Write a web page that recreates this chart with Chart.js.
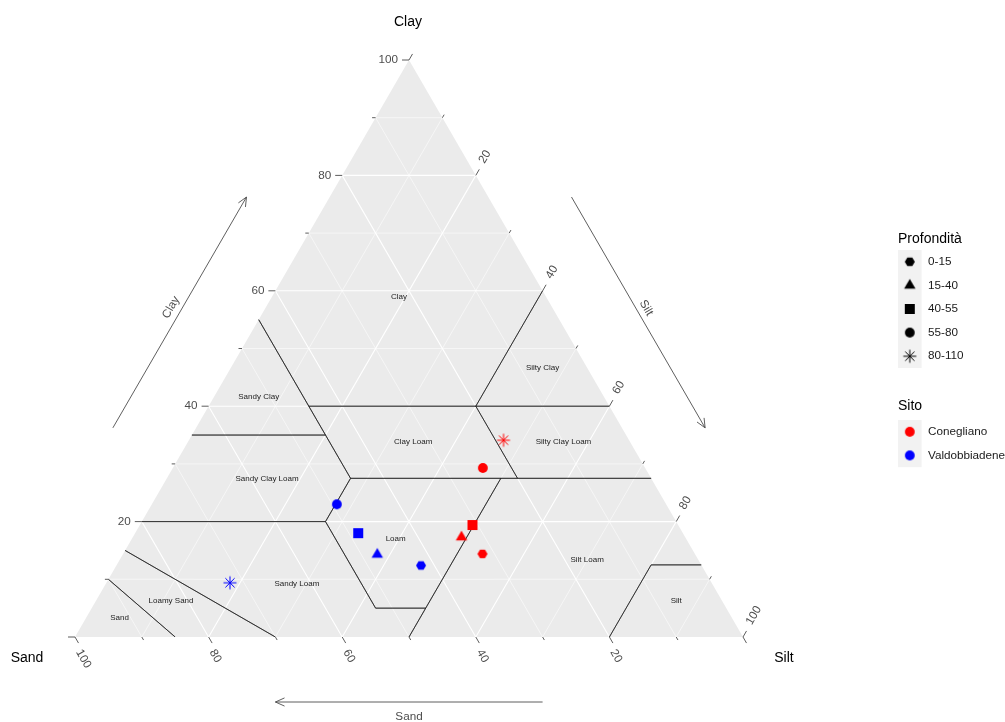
<!DOCTYPE html>
<html>
<head>
<meta charset="utf-8">
<title>Tessitura del suolo</title>
<script src="https://cdn.jsdelivr.net/npm/chart.js@4.4.0/dist/chart.umd.min.js"></script>
<style>
  html, body { margin: 0; padding: 0; background: #ffffff; }
  #wrap { width: 1005px; height: 722px; position: relative; }
</style>
</head>
<body>
<div id="wrap"><canvas id="chart" width="1005" height="722"></canvas></div>
<script>
// ---- Samples: texture fractions (%) by site and depth ----
const depthLabels = ['0-15', '15-40', '40-55', '55-80', '80-110'];
const siteNames = ['Conegliano', 'Valdobbiadene'];
const siteColors = ['#FF0000', '#0000FF'];

const coneglianoSand = [31.8, 33.5, 30.8, 24.3, 18.8];
const coneglianoSilt = [53.8, 49.2, 49.8, 46.4, 47.1];
const coneglianoClay = [14.4, 17.3, 19.4, 29.3, 34.1];

const valdobbiadeneSand = [42.0, 47.6, 48.6, 49.3, 72.1];
const valdobbiadeneSilt = [45.6, 38.1, 33.4, 27.7, 18.5];
const valdobbiadeneClay = [12.4, 14.3, 18.0, 23.0, 9.4];

// ---- Axis ticks ----
const tickLabels = [20, 40, 60, 80, 100];
const tickSteps = [0, 10, 20, 30, 40, 50, 60, 70, 80, 90, 100];
const gridMajor = [20, 40, 60, 80];
const gridMinor = [10, 30, 50, 70, 90];

// ---- USDA texture classes: vertices as [sand, silt, clay] ----
const usdaNames = ['Clay', 'Sandy Clay', 'Silty Clay', 'Sandy Clay Loam', 'Clay Loam',
  'Silty Clay Loam', 'Loam', 'Sandy Loam', 'Silt Loam', 'Loamy Sand', 'Sand', 'Silt'];
const usdaVertices = [
  [[45, 0, 55], [45, 15, 40], [20, 40, 40], [0, 40, 60], [0, 0, 100]],
  [[45, 0, 55], [65, 0, 35], [45, 20, 35]],
  [[0, 40, 60], [20, 40, 40], [0, 60, 40]],
  [[80, 0, 20], [65, 0, 35], [45, 20, 35], [45, 27.5, 27.5], [52.5, 27.5, 20]],
  [[45, 15, 40], [20, 40, 40], [20, 52.5, 27.5], [45, 27.5, 27.5]],
  [[20, 40, 40], [0, 60, 40], [0, 72.5, 27.5], [20, 52.5, 27.5]],
  [[45, 27.5, 27.5], [52.5, 27.5, 20], [52.5, 42.5, 5], [45, 50, 5], [22.5, 50, 27.5]],
  [[80, 0, 20], [52.5, 27.5, 20], [52.5, 42.5, 5], [45, 50, 5], [50, 50, 0], [70, 30, 0], [85, 0, 15]],
  [[50, 50, 0], [22.5, 50, 27.5], [0, 72.5, 27.5], [0, 87.5, 12.5], [7.5, 80, 12.5], [20, 80, 0]],
  [[85, 0, 15], [70, 30, 0], [85, 15, 0], [90, 0, 10]],
  [[90, 0, 10], [85, 15, 0], [100, 0, 0]],
  [[20, 80, 0], [7.5, 80, 12.5], [0, 87.5, 12.5], [0, 100, 0]]
];

const FONT = '"Liberation Sans", Arial, Helvetica, sans-serif';
const GAP = { x: null, y: null };

// ternary (sand, silt, clay) -> cartesian plane: x = silt + clay/2, y = clay
function toXY(sand, silt, clay) {
  const t = sand + silt + clay;
  return { x: 100 * (silt + clay / 2) / t, y: 100 * clay / t };
}

// constant-value grid lines for the three components
function gridLines(values) {
  const pts = [];
  values.forEach(v => {
    pts.push(toXY(100 - v, 0, v), toXY(0, 100 - v, v), GAP);   // clay = v
    pts.push(toXY(v, 100 - v, 0), toXY(v, 0, 100 - v), GAP);   // sand = v
    pts.push(toXY(100 - v, v, 0), toXY(0, v, 100 - v), GAP);   // silt = v
  });
  return pts;
}

// class borders: polygon edges that do not run along the triangle sides
function classBorders() {
  const pts = [];
  usdaVertices.forEach(poly => {
    poly.forEach((p, i) => {
      const q = poly[(i + 1) % poly.length];
      const onSide = [0, 1, 2].some(k => p[k] === 0 && q[k] === 0);
      if (!onSide) pts.push(toXY(p[0], p[1], p[2]), toXY(q[0], q[1], q[2]), GAP);
    });
  });
  return pts;
}

// ---- Marker glyphs ----
const depthShapes = ['hexagon', 'triangle', 'square', 'circle', 'asterisk'];
function makeMarker(shape, color) {
  const size = 18, c = size / 2;
  const cv = document.createElement('canvas');
  cv.width = size; cv.height = size;
  const g = cv.getContext('2d');
  g.fillStyle = color; g.strokeStyle = color;
  g.beginPath();
  if (shape === 'hexagon') {
    for (let i = 0; i < 6; i++) {
      const a = i * Math.PI / 3;
      g.lineTo(c + 5 * Math.cos(a), c + 4.7 * Math.sin(a) * 1.07);
    }
    g.closePath(); g.fill();
  } else if (shape === 'triangle') {
    const r = 6.6;
    for (let i = 0; i < 3; i++) {
      const a = -Math.PI / 2 + i * 2 * Math.PI / 3;
      g.lineTo(c + r * Math.cos(a), c + r * Math.sin(a));
    }
    g.closePath(); g.fill();
  } else if (shape === 'square') {
    g.rect(c - 5, c - 5, 10, 10); g.fill();
  } else if (shape === 'circle') {
    g.arc(c, c, 4.9, 0, Math.PI * 2); g.fill();
  } else if (shape === 'asterisk') {
    g.lineWidth = 1;
    for (let i = 0; i < 4; i++) {
      const a = i * Math.PI / 4;
      g.moveTo(c - 6.5 * Math.cos(a), c - 6.5 * Math.sin(a));
      g.lineTo(c + 6.5 * Math.cos(a), c + 6.5 * Math.sin(a));
    }
    g.stroke();
  }
  return cv;
}
const markerCache = {};
function marker(shape, color) {
  const key = shape + color;
  if (!markerCache[key]) markerCache[key] = makeMarker(shape, color);
  return markerCache[key];
}

const siteSand = [coneglianoSand, valdobbiadeneSand];
const siteSilt = [coneglianoSilt, valdobbiadeneSilt];
const siteClay = [coneglianoClay, valdobbiadeneClay];

const sampleDatasets = siteNames.map((name, i) => ({
  label: name,
  data: depthLabels.map((d, j) => toXY(siteSand[i][j], siteSilt[i][j], siteClay[i][j])),
  pointStyle: depthShapes.map(s => marker(s, siteColors[i])),
  pointRadius: 5,
  showLine: false,
  order: 0
}));

const lineDefaults = { showLine: true, pointRadius: 0, spanGaps: false, tension: 0, fill: false };

const datasets = [
  ...sampleDatasets,
  Object.assign({ label: 'classes', data: classBorders(), borderColor: 'rgba(20,20,20,0.8)', borderWidth: 0.8, order: 2 }, lineDefaults),
  Object.assign({ label: 'major', data: gridLines(gridMajor), borderColor: '#FFFFFF', borderWidth: 1.1, order: 3 }, lineDefaults),
  Object.assign({ label: 'minor', data: gridLines(gridMinor), borderColor: '#FFFFFF', borderWidth: 0.55, order: 4 }, lineDefaults),
  Object.assign({}, lineDefaults, {
    label: 'panel',
    data: [toXY(100, 0, 0), toXY(0, 100, 0), toXY(0, 0, 100)],
    fill: 'shape', backgroundColor: '#EBEBEB', borderWidth: 0, borderColor: 'rgba(0,0,0,0)', order: 5
  })
];

// ---- Axes, labels, arrows and legend drawn around the triangle ----
const ternaryDecor = {
  id: 'ternaryDecor',
  afterDatasetsDraw(chart) {
    const ctx = chart.ctx;
    const xs = chart.scales.x, ys = chart.scales.y;
    const px = (s, si, c) => {
      const p = toXY(s, si, c);
      return { x: xs.getPixelForValue(p.x), y: ys.getPixelForValue(p.y) };
    };
    const cos60 = 0.5, sin60 = Math.sqrt(3) / 2;

    ctx.save();
    // class names at the vertex mean of each class polygon
    ctx.font = '8px ' + FONT;
    ctx.fillStyle = '#222222';
    ctx.textAlign = 'center';
    ctx.textBaseline = 'middle';
    usdaVertices.forEach((poly, i) => {
      const m = [0, 1, 2].map(k => poly.reduce((a, p) => a + p[k], 0) / poly.length);
      const p = px(m[0], m[1], m[2]);
      ctx.fillText(usdaNames[i], p.x, p.y);
    });

    // ticks
    ctx.strokeStyle = '#333333';
    ctx.lineWidth = 0.8;
    tickSteps.forEach(v => {
      const len = v % 20 === 0 ? 7 : 3.5;
      const a = px(100 - v, 0, v);          // clay, left side
      const b = px(v, 100 - v, 0);          // sand, bottom side
      const c = px(0, v, 100 - v);          // silt, right side
      ctx.beginPath();
      ctx.moveTo(a.x, a.y); ctx.lineTo(a.x - len, a.y);
      ctx.moveTo(b.x, b.y); ctx.lineTo(b.x + len * cos60, b.y + len * sin60);
      ctx.moveTo(c.x, c.y); ctx.lineTo(c.x + len * cos60, c.y - len * sin60);
      ctx.stroke();
    });

    // tick labels
    ctx.font = '11.7px ' + FONT;
    ctx.fillStyle = '#4D4D4D';
    tickLabels.forEach(v => {
      const a = px(100 - v, 0, v);
      ctx.textAlign = 'right'; ctx.textBaseline = 'middle';
      ctx.fillText(String(v), a.x - 11, a.y);

      const b = px(v, 100 - v, 0);
      ctx.save();
      ctx.translate(b.x + 3.5, b.y + 13.5);
      ctx.rotate(Math.PI / 3);
      ctx.textAlign = 'left'; ctx.textBaseline = 'middle';
      ctx.fillText(String(v), 0, 0);
      ctx.restore();

      const c = px(0, v, 100 - v);
      ctx.save();
      ctx.translate(c.x + 6, c.y - 13);
      ctx.rotate(-Math.PI / 3);
      ctx.textAlign = 'left'; ctx.textBaseline = 'middle';
      ctx.fillText(String(v), 0, 0);
      ctx.restore();
    });

    // vertex titles
    const vSand = px(100, 0, 0), vSilt = px(0, 100, 0), vClay = px(0, 0, 100);
    ctx.font = '14px ' + FONT;
    ctx.fillStyle = '#000000';
    ctx.textAlign = 'center'; ctx.textBaseline = 'middle';
    ctx.fillText('Clay', vClay.x - 1, vClay.y - 38);
    ctx.fillText('Sand', vSand.x - 48, vSand.y + 21);
    ctx.fillText('Silt', vSilt.x + 41, vSilt.y + 21);

    // direction arrows parallel to the sides
    function arrow(x1, y1, x2, y2) {
      const ang = Math.atan2(y2 - y1, x2 - x1), hl = 10, ha = 0.42;
      ctx.beginPath();
      ctx.moveTo(x1, y1); ctx.lineTo(x2, y2);
      ctx.moveTo(x2 - hl * Math.cos(ang - ha), y2 - hl * Math.sin(ang - ha));
      ctx.lineTo(x2, y2);
      ctx.lineTo(x2 - hl * Math.cos(ang + ha), y2 - hl * Math.sin(ang + ha));
      ctx.stroke();
    }
    function along(p, q, t, off) {
      // point at fraction t from p to q, shifted off px to the left of p->q
      const dx = q.x - p.x, dy = q.y - p.y, L = Math.hypot(dx, dy);
      return { x: p.x + dx * t + (dy / L) * off, y: p.y + dy * t - (dx / L) * off };
    }
    ctx.strokeStyle = '#4D4D4D';
    ctx.lineWidth = 0.9;
    ctx.fillStyle = '#4D4D4D';
    ctx.font = '11.7px ' + FONT;

    let s = along(vSand, vClay, 0.3, 72), e = along(vSand, vClay, 0.7, 72);
    arrow(s.x, s.y, e.x, e.y);
    let l = along(vSand, vClay, 0.5, 82);
    ctx.save(); ctx.translate(l.x, l.y); ctx.rotate(-Math.PI / 3);
    ctx.fillText('Clay', 0, 0); ctx.restore();

    s = along(vClay, vSilt, 0.3, 72); e = along(vClay, vSilt, 0.7, 72);
    arrow(s.x, s.y, e.x, e.y);
    l = along(vClay, vSilt, 0.5, 81);
    ctx.save(); ctx.translate(l.x, l.y); ctx.rotate(Math.PI / 3);
    ctx.fillText('Silt', 0, 0); ctx.restore();

    s = along(vSilt, vSand, 0.3, 65); e = along(vSilt, vSand, 0.7, 65);
    arrow(s.x, s.y, e.x, e.y);
    l = along(vSilt, vSand, 0.5, 80);
    ctx.fillText('Sand', l.x, l.y);

    // legends
    const lx = 898, key = 23.6;
    ctx.textAlign = 'left'; ctx.textBaseline = 'middle';
    ctx.fillStyle = '#000000';
    ctx.font = '14px ' + FONT;
    ctx.fillText('Profondità', lx, 239);
    ctx.fillStyle = '#F2F2F2';
    ctx.fillRect(lx, 250, key, key * depthLabels.length);
    ctx.font = '11.7px ' + FONT;
    depthLabels.forEach((d, j) => {
      const cy = 250 + key * (j + 0.5);
      const m = marker(depthShapes[j], '#000000');
      ctx.drawImage(m, lx + key / 2 - m.width / 2, cy - m.height / 2);
      ctx.fillStyle = '#1A1A1A';
      ctx.fillText(d, 928, cy);
    });

    ctx.fillStyle = '#000000';
    ctx.font = '14px ' + FONT;
    ctx.fillText('Sito', lx, 406);
    ctx.fillStyle = '#F2F2F2';
    ctx.fillRect(lx, 420, key, key * siteNames.length);
    ctx.font = '11.7px ' + FONT;
    siteNames.forEach((n, i) => {
      const cy = 420 + key * (i + 0.5);
      const m = marker('circle', siteColors[i]);
      ctx.drawImage(m, lx + key / 2 - m.width / 2, cy - m.height / 2);
      ctx.fillStyle = '#1A1A1A';
      ctx.fillText(n, 928, cy);
    });
    ctx.restore();
  }
};

new Chart(document.getElementById('chart'), {
  type: 'scatter',
  data: { datasets },
  options: {
    responsive: false,
    animation: false,
    devicePixelRatio: 1,
    events: [],
    layout: { padding: { left: 75, right: 262, top: 60, bottom: 85 }, autoPadding: false },
    scales: {
      x: { type: 'linear', min: 0, max: 100, display: false },
      y: { type: 'linear', min: 0, max: 100, display: false }
    },
    plugins: { legend: { display: false }, tooltip: { enabled: false } }
  },
  plugins: [ternaryDecor]
});
</script>
</body>
</html>
